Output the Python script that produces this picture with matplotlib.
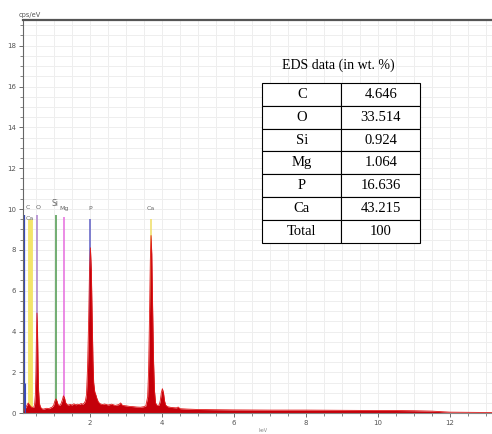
import matplotlib.pyplot as plt

# EDS spectrum (keV, cps/eV)
energy = [0.14, 0.18, 0.22, 0.25, 0.28, 0.31, 0.34, 0.37, 0.40, 0.44, 0.46, 0.48,
          0.495, 0.51, 0.525, 0.54, 0.555, 0.57, 0.59, 0.62, 0.66, 0.70, 0.75, 0.80,
          0.85, 0.90, 0.95, 0.99, 1.02, 1.05, 1.08, 1.11, 1.15, 1.19, 1.23, 1.26,
          1.29, 1.32, 1.36, 1.40, 1.45, 1.50, 1.55, 1.60, 1.65, 1.70, 1.75, 1.80,
          1.84, 1.87, 1.90, 1.93, 1.96, 1.985, 2.01, 2.035, 2.06, 2.08, 2.10, 2.13,
          2.16, 2.19, 2.23, 2.28, 2.35, 2.40, 2.50, 2.60, 2.70, 2.80, 2.85, 2.90,
          3.00, 3.10, 3.20, 3.30, 3.40, 3.50, 3.55, 3.60, 3.625, 3.65, 3.675, 3.695,
          3.715, 3.74, 3.765, 3.79, 3.82, 3.86, 3.92, 3.95, 3.98, 4.01, 4.04, 4.07,
          4.10, 4.15, 4.25, 4.40, 4.45, 4.50, 4.70, 5.00, 5.50, 6.00, 7.00, 8.00,
          9.00, 10.0, 10.5, 11.0, 11.5, 12.0, 13.2]
counts = [0.05, 0.15, 0.30, 0.40, 0.50, 0.42, 0.35, 0.30, 0.28, 0.30, 0.45, 0.90,
          2.00, 3.80, 4.90, 4.00, 2.30, 1.10, 0.50, 0.30, 0.22, 0.20, 0.22, 0.24,
          0.22, 0.26, 0.30, 0.40, 0.58, 0.70, 0.60, 0.42, 0.38, 0.45, 0.65, 0.85,
          0.75, 0.52, 0.42, 0.40, 0.43, 0.40, 0.46, 0.41, 0.44, 0.42, 0.47, 0.44,
          0.50, 0.60, 0.90, 2.20, 4.50, 7.00, 8.10, 7.00, 4.50, 2.60, 1.50, 1.05,
          0.90, 0.72, 0.55, 0.46, 0.42, 0.45, 0.40, 0.44, 0.38, 0.42, 0.50, 0.38,
          0.36, 0.33, 0.32, 0.30, 0.29, 0.32, 0.36, 0.80, 2.00, 4.50, 7.50, 8.70,
          7.80, 5.00, 2.50, 1.10, 0.50, 0.38, 0.40, 0.60, 1.00, 1.20, 1.00, 0.60,
          0.40, 0.32, 0.28, 0.26, 0.30, 0.22, 0.20, 0.18, 0.17, 0.16, 0.15, 0.15,
          0.14, 0.13, 0.13, 0.12, 0.10, 0.05, 0.03]

# element marker lines
el_names = ['C', 'Ca', 'O', 'Si', 'Mg', 'P', 'Ca']
el_pos = [0.155, 0.33, 0.53, 1.05, 1.27, 2.0, 3.69]
el_top = [9.7, 9.5, 9.7, 9.7, 9.6, 9.5, 9.5]
el_colors = ['#3a4ab8', '#f3e46a', '#b08ad0', '#5aa05a', '#e878e0', '#6a6ac8', '#f0e070']
el_widths = [1.6, 3.5, 1.2, 1.2, 1.2, 1.2, 1.2]
label_x = [0.28, 0.33, 0.55, 1.03, 1.28, 2.0, 3.69]
label_y = [9.95, 9.4, 9.95, 10.05, 9.9, 9.9, 9.9]

# table
tab_elem = ['C', 'O', 'Si', 'Mg', 'P', 'Ca', 'Total']
tab_wt = ['4.646', '33.514', '0.924', '1.064', '16.636', '43.215', '100']

fig = plt.figure(figsize=(4.92, 4.34), dpi=100)
ax = fig.add_axes([0.047, 0.048, 0.953, 0.906])

ax.set_xlim(0.14, 13.17)
ax.set_ylim(0, 19.26)

ax.set_xticks([2, 4, 6, 8, 10, 12])
ax.set_xticks([i * 0.5 for i in range(1, 27)], minor=True)
ax.set_yticks([0, 2, 4, 6, 8, 10, 12, 14, 16, 18])
ax.set_yticks([i * 0.5 for i in range(0, 39)], minor=True)
ax.grid(True, which='both', color='#eeeeee', linewidth=0.7)
ax.set_axisbelow(True)
ax.tick_params(axis='both', which='major', labelsize=5, colors='#555555',
               length=3, width=0.6, pad=2)
ax.tick_params(axis='both', which='minor', length=2, width=0.5, colors='#555555')

ax.spines['right'].set_visible(False)
ax.spines['top'].set_color('#555555')
ax.spines['top'].set_linewidth(1.6)
ax.spines['left'].set_color('#666666')
ax.spines['bottom'].set_color('#888888')

for i in range(len(el_names)):
    ax.vlines(el_pos[i], 0, el_top[i], color=el_colors[i], linewidth=el_widths[i], zorder=1.8)
    fs = 5.5 if el_names[i] == 'Si' else 4.5
    ax.text(label_x[i], label_y[i], el_names[i], fontsize=fs, color='#666666',
            ha='center', va='bottom')
ax.vlines(0.19, 0, 1.5, color='#3a4ab8', linewidth=0.8, zorder=3)

ax.fill_between(energy, counts, 0, color='#c4000a', linewidth=0, zorder=2)
ax.plot(energy, counts, color='#e01818', linewidth=0.6, zorder=2.1)

ax.text(-0.01, 1.005, 'cps/eV', transform=ax.transAxes, fontsize=4.8,
        color='#555555', ha='left', va='bottom')
fig.text(0.535, 0.002, 'keV', fontsize=3.5, color='#888888', ha='center', va='bottom')

ax.text(0.672, 0.886, 'EDS data (in wt. %)', transform=ax.transAxes,
        fontsize=10, family='Liberation Serif', ha='center', va='center')

rows = [[tab_elem[i], tab_wt[i]] for i in range(len(tab_elem))]
tbl = ax.table(cellText=rows, cellLoc='center', bbox=[0.510, 0.433, 0.337, 0.407])
tbl.auto_set_font_size(False)
for key, cell in tbl.get_celld().items():
    cell.set_facecolor('white')
    cell.set_edgecolor('black')
    cell.set_linewidth(0.8)
    cell.get_text().set_fontsize(10.5)
    cell.get_text().set_family('Liberation Serif')
tbl.set_zorder(5)

plt.savefig('out.png', dpi=100)
